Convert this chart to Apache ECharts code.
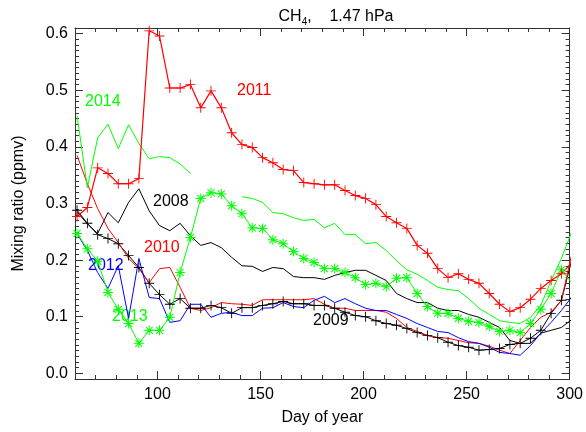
<!DOCTYPE html>
<html><head><meta charset="utf-8">
<script src="https://cdn.jsdelivr.net/npm/echarts@6/dist/echarts.min.js"></script>
<style>html,body{margin:0;padding:0;background:#fff}#c{width:586px;height:432px}</style>
</head><body><div id="c"></div>
<script>
const days = [61,66,71,76,81,86,91,96,101,106,111,116,121,126,131,136,141,146,151,156,161,166,171,176,181,186,191,196,201,206,211,216,221,226,231,236,241,246,251,256,261,266,271,276,281,286,291,296,301];
const y2011 = [0.277,0.293,0.363,0.353,0.335,0.335,0.344,0.605,0.596,0.504,0.504,0.510,0.469,0.499,0.469,0.425,0.404,0.399,0.381,0.372,0.360,0.358,0.337,0.335,0.333,0.333,0.323,0.314,0.309,0.298,0.277,0.266,0.256,0.226,0.212,0.185,0.169,0.176,0.166,0.159,0.141,0.122,0.109,0.116,0.131,0.150,0.164,0.176,0.195];
const y2014 = [0.455,0.328,0.416,0.440,0.397,0.439,0.406,0.379,0.383,0.381,0.370,0.353,null,null,null,null,0.312,0.309,0.302,0.284,0.282,0.275,0.270,0.272,0.257,0.265,0.245,0.245,0.229,0.231,0.217,0.199,0.183,0.175,0.164,0.152,0.148,0.146,0.132,0.115,0.104,0.093,0.090,0.088,0.099,0.120,0.164,0.203,0.250];
const y2008 = [0.285,0.264,0.247,0.284,0.266,0.302,0.326,0.287,0.261,0.252,0.265,0.243,0.226,0.231,0.222,0.205,0.190,0.189,0.180,0.187,0.185,0.171,0.169,0.169,0.166,0.173,0.178,0.182,0.182,0.173,0.164,0.141,0.132,0.125,0.125,0.115,0.111,0.111,0.104,0.099,0.090,0.081,0.058,0.053,0.053,0.071,0.076,0.081,0.095];
const y2009 = [0.288,0.265,0.245,0.238,0.229,0.208,0.187,0.159,0.139,0.122,0.132,0.115,0.115,0.120,0.116,0.106,0.116,0.116,0.120,0.123,0.127,0.123,0.123,0.120,0.120,0.115,0.108,0.102,0.100,0.093,0.088,0.085,0.079,0.072,0.067,0.063,0.055,0.049,0.046,0.041,0.042,0.044,0.051,0.053,0.062,0.076,0.106,0.129,0.200];
const y2010 = [0.385,0.335,0.291,0.256,0.231,0.203,0.185,0.160,0.185,0.187,0.152,0.115,0.111,0.116,0.125,0.123,0.122,0.120,0.130,0.130,0.130,0.130,0.130,0.132,0.122,0.115,0.115,0.111,0.111,0.111,0.108,0.097,0.081,0.074,0.067,0.063,0.062,0.058,0.054,0.053,0.048,0.041,0.035,0.058,0.081,0.099,0.108,0.129,0.210];
const y2012 = [0.247,0.217,0.178,0.150,0.190,0.097,0.203,0.134,0.132,0.090,0.093,0.122,0.122,0.099,0.106,0.108,0.102,0.102,0.115,0.116,0.125,0.118,0.116,0.129,0.136,0.125,0.132,0.123,0.115,0.111,0.111,0.104,0.097,0.088,0.081,0.074,0.072,0.063,0.056,0.053,0.046,0.037,0.035,0.032,0.049,0.071,0.090,0.111,0.135];
const y2013 = [0.247,0.220,0.198,0.143,0.113,0.088,0.053,0.076,0.076,0.099,0.178,0.240,0.309,0.319,0.317,0.296,0.282,0.257,0.256,0.236,0.229,0.215,0.203,0.196,0.185,0.185,0.178,0.169,0.157,0.159,0.153,0.168,0.169,0.141,0.118,0.106,0.106,0.097,0.092,0.090,0.083,0.074,0.076,0.072,0.088,0.113,0.141,0.183,0.160];
const xMajor = [100,150,200,250,300];
const xMinor = [70,80,90,110,120,130,140,160,170,180,190,210,220,230,240,260,270,280,290];
const yMajor = [0,0.1,0.2,0.3,0.4,0.5,0.6];
const yMinor = [-0.01,0.01,0.02,0.03,0.04,0.05,0.06,0.07,0.08,0.09,0.11,0.12,0.13,0.14,0.15,0.16,0.17,0.18,0.19,0.21,0.22,0.23,0.24,0.25,0.26,0.27,0.28,0.29,0.31,0.32,0.33,0.34,0.35,0.36,0.37,0.38,0.39,0.41,0.42,0.43,0.44,0.45,0.46,0.47,0.48,0.49,0.51,0.52,0.53,0.54,0.55,0.56,0.57,0.58,0.59,0.61];

const pair = arr => days.map((d,i)=>[d,arr[i]]);
const FONT = 'Liberation Sans';
const PLUS = 'path://M-0.9,-10L0.9,-10L0.9,-0.9L10,-0.9L10,0.9L0.9,0.9L0.9,10L-0.9,10L-0.9,0.9L-10,0.9L-10,-0.9L-0.9,-0.9Z';
const STAR = 'path://M-1,-10L1,-10L1,10L-1,10Z M-10,-1L10,-1L10,1L-10,1Z M-7.8,-6.4L-6.4,-7.8L7.8,6.4L6.4,7.8Z M6.4,-7.8L7.8,-6.4L-6.4,7.8L-7.8,6.4Z';

function xAx(pos, vals, len, labels, line){
  return {type:'value', min:60, max:300, position:pos,
    axisLine:{show:line, onZero:false, lineStyle:{color:'#333', width:1}},
    axisTick:{show:true, inside:true, length:len, customValues:vals, lineStyle:{color:'#333'}},
    axisLabel:{show:labels, customValues:xMajor, color:'#000', fontFamily:FONT, fontSize:16, margin:8},
    splitLine:{show:false}, name: (labels? 'Day of year':''), nameLocation:'middle', nameGap:31,
    nameTextStyle:{color:'#000', fontFamily:FONT, fontSize:16}};
}
function yAx(pos, vals, len, labels, line){
  return {type:'value', min:-0.01, max:0.61, position:pos,
    axisLine:{show:line, onZero:false, lineStyle:{color:'#333', width:1}},
    axisTick:{show:true, inside:true, length:len, customValues:vals, lineStyle:{color:'#333'}},
    axisLabel:{show:labels, customValues:yMajor, color:'#000', fontFamily:FONT, fontSize:16, margin:7,
      formatter:v=>v.toFixed(1)},
    splitLine:{show:false}, name:(labels?'Mixing ratio (ppmv)':''), nameLocation:'middle', nameGap:48,
    nameTextStyle:{color:'#000', fontFamily:FONT, fontSize:16}};
}

function ser(name, arr, color, sym, w){
  return {name, type:'line', data:pair(arr), xAxisIndex:0, yAxisIndex:0,
    lineStyle:{color, width:w}, itemStyle:{color},
    symbol: sym||'none', symbolSize: sym? 10:0, showSymbol: !!sym,
    connectNulls:false, clip:true, animation:false, z: 3};
}

const chart = echarts.init(document.getElementById('c'), null, {renderer:'canvas'});
chart.setOption({
  animation:false,
  backgroundColor:'#fff',
  grid:{left:75, right:16, top:28, bottom:53},
  title:{text:'{a|CH}{s|4}{a|,    1.47 hPa}', left:331, top:2, textAlign:'center',
    textStyle:{fontWeight:'normal', rich:{a:{fontFamily:FONT, fontSize:16, fontWeight:'normal', color:'#000'}, s:{fontFamily:FONT, fontSize:10, fontWeight:'normal', color:'#000', padding:[10,0,0,0]}}}},
  xAxis:[xAx('bottom', xMajor, 8, true, true), xAx('bottom', xMinor, 4, false, false),
         xAx('top', xMajor, 8, false, true), xAx('top', xMinor, 4, false, false)],
  yAxis:[yAx('left', yMajor, 8, true, true), yAx('left', yMinor, 4, false, false),
         yAx('right', yMajor, 8, false, true), yAx('right', yMinor, 4, false, false)],
  series:[
    ser('2008', y2008, '#000000', null, 1),
    ser('2009', y2009, '#000000', PLUS, 1),
    ser('2010', y2010, '#ff0000', null, 1),
    ser('2012', y2012, '#0000ff', null, 1),
    ser('2014', y2014, '#00ff00', null, 1),
    ser('2013', y2013, '#00ff00', STAR, 1),
    ser('2011', y2011, '#ff0000', PLUS, 1.2)
  ],
  graphic:[
    {type:'text', left:237, top:83, style:{text:'2011', fill:'#ff0000', font:'16px '+FONT}},
    {type:'text', left:85, top:94, style:{text:'2014', fill:'#00ff00', font:'16px '+FONT}},
    {type:'text', left:153, top:194, style:{text:'2008', fill:'#000000', font:'16px '+FONT}},
    {type:'text', left:144, top:240, style:{text:'2010', fill:'#ff0000', font:'16px '+FONT}},
    {type:'text', left:88, top:258, style:{text:'2012', fill:'#0000ff', font:'16px '+FONT}},
    {type:'text', left:112, top:309, style:{text:'2013', fill:'#00ff00', font:'16px '+FONT}},
    {type:'text', left:313, top:313, style:{text:'2009', fill:'#000000', font:'16px '+FONT}}
  ]
});
</script></body></html>
